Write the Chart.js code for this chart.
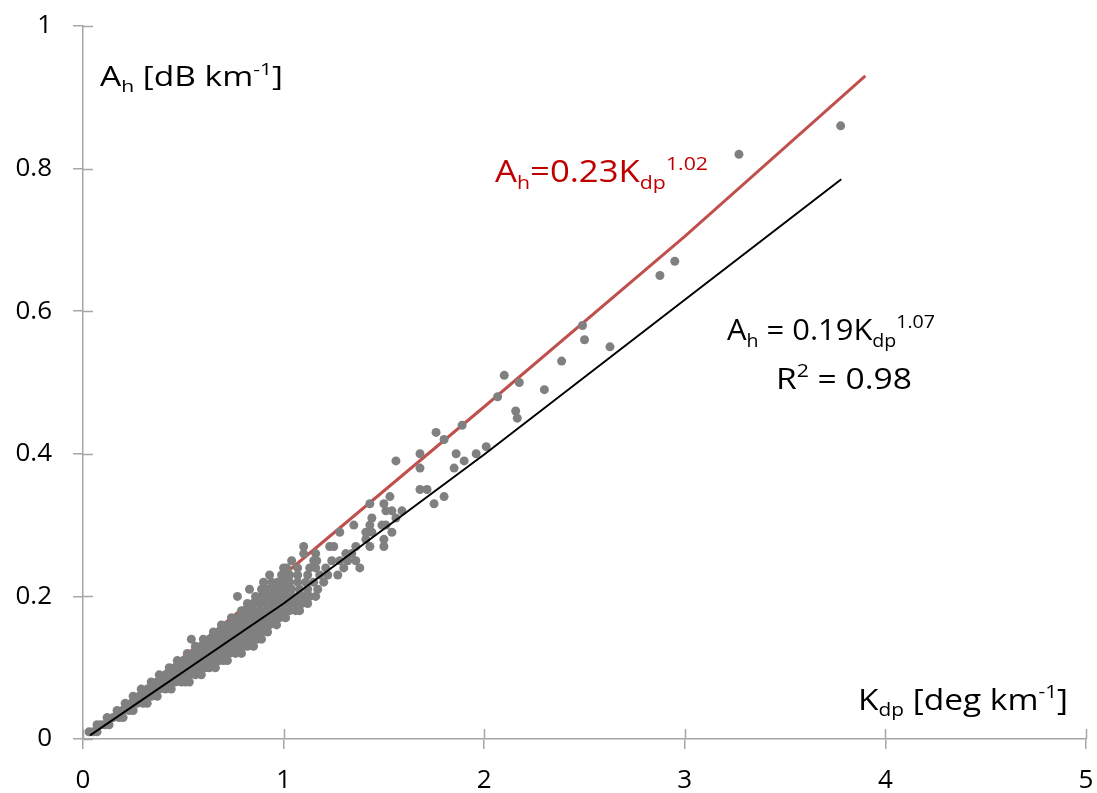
<!DOCTYPE html>
<html>
<head>
<meta charset="utf-8">
<script src="https://cdn.jsdelivr.net/npm/chart.js@4"></script>
<style>
  body { margin: 0; background: #fff; }
</style>
</head>
<body>
<canvas id="ahChart" width="1097" height="793"></canvas>
<script>
// Ah values of the observed points (rows of equal Ah, dB/km)
const ahLevels = [0.01, 0.02, 0.03, 0.04, 0.05, 0.06, 0.07, 0.08, 0.09, 0.10,
	0.11, 0.12, 0.13, 0.14, 0.15, 0.16, 0.17, 0.18, 0.19, 0.20,
	0.21, 0.22, 0.23, 0.24, 0.25, 0.26, 0.27, 0.28, 0.29, 0.30,
	0.31, 0.32, 0.33, 0.34, 0.35, 0.38, 0.39, 0.40, 0.41, 0.42,
	0.43, 0.44, 0.45, 0.46, 0.48, 0.49, 0.50, 0.51, 0.53, 0.55,
	0.56, 0.58, 0.65, 0.67, 0.82, 0.86];

// Kdp values (deg/km) of the points found on each Ah row
const kdpAtLevel = [
	[0.03, 0.05, 0.07],
	[0.07, 0.09, 0.11, 0.13],
	[0.12, 0.15, 0.18, 0.2],
	[0.17, 0.2, 0.23, 0.25],
	[0.21, 0.24, 0.27, 0.3, 0.32],
	[0.25, 0.28, 0.31, 0.34, 0.37],
	[0.29, 0.32, 0.35, 0.38, 0.41, 0.44],
	[0.34, 0.37, 0.4, 0.43, 0.46, 0.49, 0.51, 0.53],
	[0.38, 0.41, 0.44, 0.47, 0.5, 0.53, 0.56, 0.59],
	[0.43, 0.46, 0.49, 0.52, 0.55, 0.58, 0.61, 0.63, 0.66],
	[0.47, 0.5, 0.53, 0.56, 0.59, 0.62, 0.65, 0.68, 0.7, 0.72],
	[0.52, 0.55, 0.58, 0.61, 0.64, 0.67, 0.7, 0.73, 0.76, 0.79],
	[0.56, 0.59, 0.62, 0.65, 0.68, 0.71, 0.74, 0.77, 0.8, 0.82, 0.85],
	[0.54, 0.6, 0.63, 0.66, 0.69, 0.72, 0.75, 0.78, 0.81, 0.84, 0.87, 0.89],
	[0.65, 0.68, 0.71, 0.74, 0.77, 0.8, 0.83, 0.86, 0.89, 0.92],
	[0.69, 0.72, 0.75, 0.78, 0.81, 0.84, 0.87, 0.9, 0.93, 0.965],
	[0.74, 0.77, 0.8, 0.83, 0.86, 0.89, 0.92, 0.95, 0.98, 1.01],
	[0.79, 0.82, 0.85, 0.88, 0.91, 0.94, 0.97, 1.0, 1.03, 1.06, 1.08],
	[0.82, 0.85, 0.88, 0.91, 0.94, 0.97, 1.0, 1.03, 1.06, 1.09, 1.12],
	[0.77, 0.86, 0.89, 0.92, 0.95, 0.98, 1.01, 1.04, 1.07, 1.1, 1.13, 1.16],
	[0.83, 0.89, 0.92, 0.95, 0.98, 1.01, 1.04, 1.08, 1.12, 1.17],
	[0.9, 0.94, 0.97, 1.0, 1.03, 1.07, 1.11, 1.15, 1.2],
	[0.93, 0.99, 1.01, 1.03, 1.07, 1.12, 1.18, 1.22, 1.27],
	[1.0, 1.015, 1.07, 1.13, 1.16, 1.21, 1.3, 1.38],
	[1.04, 1.15, 1.165, 1.24, 1.28, 1.32, 1.36],
	[1.1, 1.16, 1.31, 1.34],
	[1.1, 1.23, 1.25, 1.36, 1.43, 1.5],
	[1.41, 1.5],
	[1.28, 1.41, 1.44, 1.54],
	[1.35, 1.43, 1.49, 1.51],
	[1.44, 1.56],
	[1.51, 1.54, 1.59],
	[1.43, 1.5, 1.75],
	[1.53, 1.8],
	[1.68, 1.715],
	[1.68, 1.85],
	[1.56, 1.9],
	[1.68, 1.86, 1.96],
	[2.01],
	[1.8],
	[1.76],
	[1.89],
	[2.165],
	[2.157],
	[2.067],
	[2.3],
	[2.175],
	[2.1],
	[2.386],
	[2.627],
	[2.5],
	[2.49],
	[2.876],
	[2.95],
	[3.27],
	[3.777]
];

// fitted curve Ah = 0.19 Kdp^1.07 (black)
const fitKdp = [0.035, 1, 2, 3, 3.78];
const fitAh = [0.005, 0.19, 0.399, 0.616, 0.785];

// reference relation Ah = 0.23 Kdp^1.02 (red)
const refKdp = [0.04, 1, 2, 3, 3.9];
const refAh = [0.009, 0.23, 0.466, 0.705, 0.93];

const kdpTicks = [0, 1, 2, 3, 4, 5];
const ahTicks = [0, 0.2, 0.4, 0.6, 0.8, 1];

var axisColor = '#a6a6a6';

var points = [];
ahLevels.forEach(function(ah, i) {
	kdpAtLevel[i].forEach(function(kdp) {
		points.push({x: kdp, y: ah});
	});
});

function pairUp(xs, ys) {
	return xs.map(function(v, i) { return {x: v, y: ys[i]}; });
}

// text with sub (-1) and superscript (1) parts, stretched to a given width
function drawRich(ctx, parts, x, y, size, color, width) {
	var small = Math.round(size * 0.62);
	var fontOf = function(p) { return (p[1] == 0 ? size : small) + 'px "Open Sans"'; };
	var total = 0;
	parts.forEach(function(p) {
		ctx.font = fontOf(p);
		total += ctx.measureText(p[0]).width;
	});
	ctx.save();
	ctx.translate(x, y);
	ctx.scale(width / total, 1);
	ctx.fillStyle = color;
	ctx.textBaseline = 'alphabetic';
	ctx.textAlign = 'left';
	var cx = 0;
	parts.forEach(function(p) {
		ctx.font = fontOf(p);
		var dy = p[1] == -1 ? size * 0.22 : (p[1] == 1 ? -size * 0.4 : 0);
		ctx.fillText(p[0], cx, dy);
		cx += ctx.measureText(p[0]).width;
	});
	ctx.restore();
}

const axisExtras = {
	id: 'axisExtras',
	afterDraw(chart) {
		var ctx = chart.ctx;
		var area = chart.chartArea;
		var xs = chart.scales.x, ys = chart.scales.y;
		ctx.save();
		// inner half of the crossing tick marks
		ctx.strokeStyle = axisColor;
		ctx.lineWidth = 1.5;
		ctx.beginPath();
		kdpTicks.forEach(function(t) {
			var px = Math.round(xs.getPixelForValue(t)) + 0.5;
			ctx.moveTo(px, area.bottom);
			ctx.lineTo(px, area.bottom - 10);
		});
		ahTicks.forEach(function(t) {
			var py = Math.round(ys.getPixelForValue(t)) + 0.5;
			ctx.moveTo(area.left, py);
			ctx.lineTo(area.left + 10, py);
		});
		ctx.stroke();
		ctx.restore();

		drawRich(ctx, [['A', 0], ['h', -1], [' [dB km', 0], ['-1', 1], [']', 0]],
			100, 86, 27, '#000', 183);
		drawRich(ctx, [['K', 0], ['dp', -1], [' [deg km', 0], ['-1', 1], [']', 0]],
			858, 710, 29, '#000', 210);
		drawRich(ctx, [['A', 0], ['h', -1], ['=0.23K', 0], ['dp', -1], ['1.02', 1]],
			495, 182, 31, '#c00000', 213);
		drawRich(ctx, [['A', 0], ['h', -1], [' = 0.19K', 0], ['dp', -1], ['1.07', 1]],
			727, 340, 30, '#000', 208);
		drawRich(ctx, [['R', 0], ['2', 1], [' = 0.98', 0]],
			776, 389, 30, '#000', 136);
	}
};

Chart.defaults.font.family = '"Open Sans"';

function tickText(v) {
	return String(v);
}

function loadChart() {
	var ctx = document.getElementById('ahChart');
	var myChart = new Chart(ctx, {
		type: 'scatter',
		data: {
			datasets: [{
				label: 'fit',
				data: pairUp(fitKdp, fitAh),
				showLine: true,
				borderColor: '#000000',
				borderWidth: 2,
				pointRadius: 0,
				order: 0
			}, {
				label: 'observed',
				data: points,
				backgroundColor: '#808080',
				pointRadius: 4.5,
				pointBorderWidth: 0,
				order: 1
			}, {
				label: 'reference',
				data: pairUp(refKdp, refAh),
				showLine: true,
				borderColor: '#c0504d',
				borderWidth: 3,
				pointRadius: 0,
				order: 2
			}]
		},
		options: {
			responsive: false,
			animation: false,
			devicePixelRatio: 1,
			layout: { padding: { top: 26, right: 11, bottom: 0, left: 0 } },
			plugins: {
				legend: { display: false },
				tooltip: { enabled: false }
			},
			scales: {
				x: {
					type: 'linear',
					min: 0,
					max: 5,
					afterBuildTicks: function(s) { s.ticks = kdpTicks.map(function(v) { return {value: v}; }); },
					ticks: { color: '#000', font: { size: 26 }, padding: 16, callback: tickText },
					grid: { drawOnChartArea: false, tickLength: 10, color: axisColor, lineWidth: 1.5 },
					border: { color: axisColor, width: 1.5 },
					afterFit: function(s) {
						s.height = 54;
						s.paddingLeft = 0;
						s.paddingRight = 0;
					}
				},
				y: {
					type: 'linear',
					min: 0,
					max: 1,
					afterBuildTicks: function(s) { s.ticks = ahTicks.map(function(v) { return {value: v}; }); },
					ticks: { color: '#000', font: { size: 26 }, padding: 21, callback: tickText },
					grid: { drawOnChartArea: false, tickLength: 10, color: axisColor, lineWidth: 1.5 },
					border: { color: axisColor, width: 1.5 },
					afterFit: function(s) {
						s.width = 83;
						s.paddingTop = 0;
						s.paddingBottom = 0;
					}
				}
			}
		},
		plugins: [axisExtras]
	});
}

loadChart();
</script>
</body>
</html>
